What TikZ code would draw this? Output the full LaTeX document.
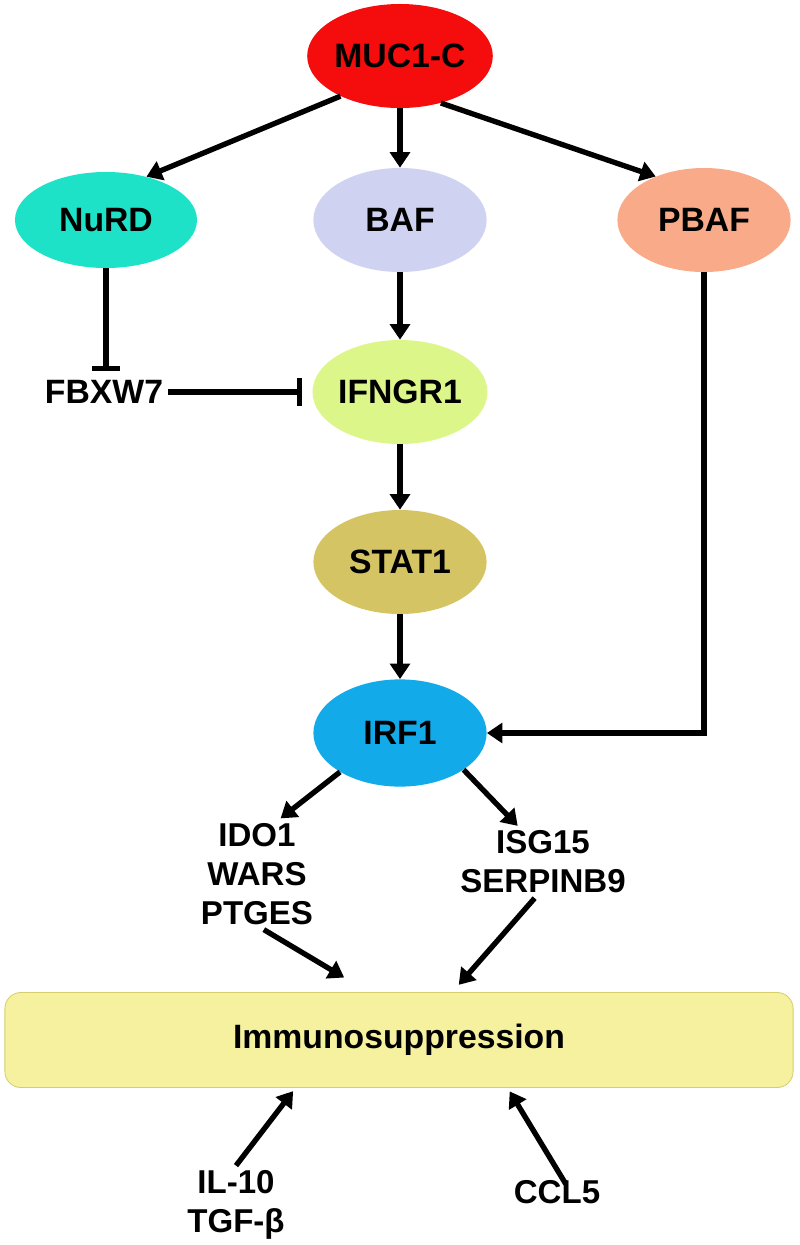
\documentclass[tikz,border=0pt]{standalone}
\usepackage{fontspec}
\setmainfont{Liberation Sans}
\usetikzlibrary{arrows.meta, positioning, shapes.geometric}

\definecolor{mucred}{RGB}{245,12,12}
\definecolor{nurdgreen}{RGB}{30,226,200}
\definecolor{baflilac}{RGB}{208,210,242}
\definecolor{pbafsalmon}{RGB}{249,170,136}
\definecolor{ifnlime}{RGB}{221,246,138}
\definecolor{statkhaki}{RGB}{213,196,100}
\definecolor{irfblue}{RGB}{18,170,232}
\definecolor{immunofill}{RGB}{245,241,158}
\definecolor{immunoedge}{RGB}{215,205,110}

\begin{document}
\begin{tikzpicture}[
    x=0.025cm, y=-0.025cm,
    font=\bfseries\fontsize{24}{29}\selectfont,
    blob/.style={ellipse, minimum width=4.33cm, minimum height=2.6cm, inner sep=0pt},
    gene/.style={align=center, font=\bfseries\fontsize{23.5}{27.7}\selectfont},
    arrow/.style={-{Triangle[length=11pt, width=14pt]}, line width=3.8pt},
    inhibit/.style={-{Bar[width=20pt]}, line width=3.8pt}
    ]
    \useasboundingbox (0,0) rectangle (800,1245);

    \node[blob, fill=mucred] (muc1c) at (400,56) {MUC1-C};
    \node[blob, fill=nurdgreen, minimum width=4.55cm, minimum height=2.4cm] (nurd) at (106,220) {NuRD};
    \node[blob, fill=baflilac] (baf) at (400,220) {BAF};
    \node[blob, fill=pbafsalmon] (pbaf) at (704,220) {PBAF};
    \node (fbxw7) at (104,392) {FBXW7};
    \node[blob, fill=ifnlime] (ifngr1) at (400,392) {IFNGR1};
    \node[blob, fill=statkhaki] (stat1) at (400,562) {STAT1};
    \node[blob, fill=irfblue, minimum height=2.68cm] (irf1) at (400,733) {IRF1};
    \node[gene] (genes_l) at (257,874) {IDO1\\WARS\\PTGES};
    \node[gene] (genes_r) at (543,862) {ISG15\\SERPINB9};
    \node[draw=immunoedge, fill=immunofill, line width=0.6pt, rounded corners=0.4cm,
          minimum width=19.7cm, minimum height=2.375cm] (immuno) at (399,1040) {Immunosuppression};
    \node[gene] (il10) at (236,1205) {IL-10\\TGF-β};
    \node[gene] (ccl5) at (557,1192) {CCL5};

    \draw[arrow] (muc1c.214) -- (nurd.47);
    \draw[arrow] (muc1c) -- (baf);
    \draw[arrow] (muc1c.311) -- (pbaf.138);
    \draw[inhibit, shorten >=0.11cm] (nurd.south) -- (nurd.south |- fbxw7.north);
    \draw[inhibit, shorten >=0.25cm] (fbxw7.east) -- (ifngr1.west);
    \draw[arrow] (baf) -- (ifngr1);
    \draw[arrow] (ifngr1) -- (stat1);
    \draw[arrow] (stat1) -- (irf1);
    \draw[arrow] (pbaf.south) |- (irf1.east);
    \draw[arrow] (irf1.213) -- (genes_l.67);
    \draw[arrow] (irf1.330) -- (genes_r.125);
    \draw[arrow, shorten >=0.71cm] (genes_l.-83) -- ([xshift=-0.76cm]immuno.north);
    \draw[arrow, shorten >=0.24cm] (genes_r.257) -- ([xshift=1.335cm]immuno.north);
    \draw[arrow, shorten >=0.1cm] (il10.north) -- ([xshift=-2.585cm]immuno.south);
    \draw[arrow, shorten >=0.1cm, shorten <=-0.25cm] (ccl5.78) -- ([xshift=2.715cm]immuno.south);

\end{tikzpicture}
\end{document}
